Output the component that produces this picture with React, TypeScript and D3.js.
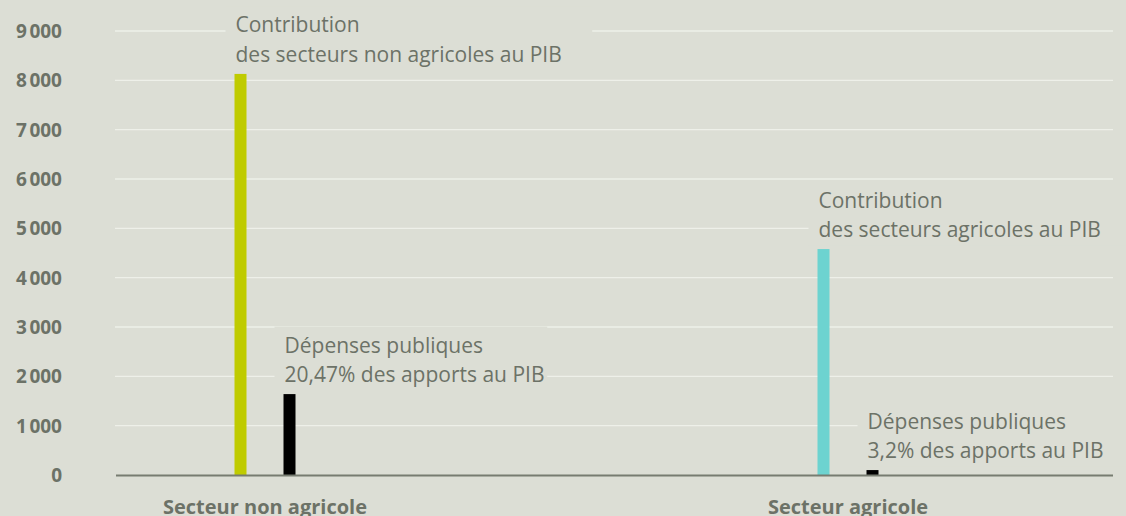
import React from "react";
import * as d3 from "d3";

const categories = ["Secteur non agricole", "Secteur agricole"];
const series = ["contribution", "depenses"];
const contribution = [8130, 4580];
const depenses = [1640, 100];
const yTicks = [0, 1000, 2000, 3000, 4000, 5000, 6000, 7000, 8000, 9000];
const contributionLabels = [
  ["Contribution", "des secteurs non agricoles au PIB"],
  ["Contribution", "des secteurs agricoles au PIB"],
];
const depensesLabels = [
  ["Dépenses publiques", "20,47% des apports au PIB"],
  ["Dépenses publiques", "3,2% des apports au PIB"],
];

const W = 1126;
const H = 516;
const BG = "#dcded5";
const GRID = "#eef0e9";
const TEXT = "#6c7267";
const AXIS = "#777c71";
const colorContribution = "#bfcb00";
const colorCyan = "#6dd3d0";
const colorDepenses = "#000000";

const plotLeft = 115;
const plotRight = 1113;
const plotTop = 31;
const plotBottom = 475;
const barW = 12;

const fr = d3.formatLocale({ decimal: ",", thousands: "\u202f", grouping: [3], currency: ["", " €"] });
const fmt = fr.format(",d");

export default function App() {
  const y = d3.scaleLinear().domain([0, 9000]).range([plotBottom, plotTop]);
  const x = d3.scalePoint<string>().domain(categories).range([265, 848]);
  const sub = d3.scalePoint<string>().domain(series).range([-24.5, 24.5]);

  const bars: { key: string; cx: number; v: number; color: string; lines: string[]; rightPad: number }[] = [];
  categories.forEach((c, i) => {
    bars.push({
      key: c + "-c",
      cx: (x(c) as number) + (sub("contribution") as number),
      v: contribution[i],
      color: i === 0 ? colorContribution : colorCyan,
      lines: contributionLabels[i],
      rightPad: i === 0 ? 31 : 40,
    });
    bars.push({
      key: c + "-d",
      cx: (x(c) as number) + (sub("depenses") as number),
      v: depenses[i],
      color: colorDepenses,
      lines: depensesLabels[i],
      rightPad: i === 0 ? 16 : 40,
    });
  });

  const lineH = 29.5;
  const fontAnn = 21;

  return (
    <svg width={W} height={H} style={{ position: "absolute", left: 0, top: 0, display: "block" }}>
      <rect x={0} y={0} width={W} height={H} fill={BG} />
      {yTicks.filter((t) => t > 0).map((t) => (
        <line key={"g" + t} x1={plotLeft} x2={plotRight} y1={y(t)} y2={y(t)} stroke={GRID} strokeWidth={1.3} />
      ))}
      {bars.map((b) => {
        const left = b.cx - barW / 2;
        const top = y(b.v);
        const lastBase = top - 12;
        const firstBase = lastBase - lineH * (b.lines.length - 1);
        const maxLen = Math.max(...b.lines.map((l) => l.length));
        const estW = maxLen * fontAnn * 0.47;
        return (
          <g key={b.key}>
            <rect
              x={left - 9}
              y={firstBase - 26}
              width={estW + 10 + b.rightPad}
              height={lastBase - firstBase + 34}
              fill={BG}
            />
            <text
              x={left + 1}
              y={firstBase}
              fill={TEXT}
              fontFamily="'Open Sans', 'Noto Sans', sans-serif"
              fontSize={fontAnn}
            >
              {b.lines.map((l, j) => (
                <tspan key={j} x={left + 1} y={firstBase + j * lineH}>
                  {l}
                </tspan>
              ))}
            </text>
          </g>
        );
      })}
      {bars.map((b) => (
        <rect key={"b" + b.key} x={b.cx - barW / 2} y={y(b.v)} width={barW} height={plotBottom - y(b.v)} fill={b.color} />
      ))}
      <line x1={plotLeft + 1} x2={plotRight} y1={plotBottom + 0.5} y2={plotBottom + 0.5} stroke={AXIS} strokeWidth={2} />
      {yTicks.map((t) => (
        <text
          key={"t" + t}
          x={62}
          y={y(t)}
          textAnchor="end"
          dominantBaseline="central"
          fill={TEXT}
          fontFamily="'Open Sans', 'Noto Sans', sans-serif"
          fontWeight={700}
          fontSize={19}
        >
          {fmt(t)}
        </text>
      ))}
      {categories.map((c) => (
        <text
          key={"c" + c}
          x={x(c) as number}
          y={514}
          textAnchor="middle"
          fill={TEXT}
          fontFamily="'Open Sans', 'Noto Sans', sans-serif"
          fontWeight={700}
          fontSize={20}
        >
          {c}
        </text>
      ))}
    </svg>
  );
}
